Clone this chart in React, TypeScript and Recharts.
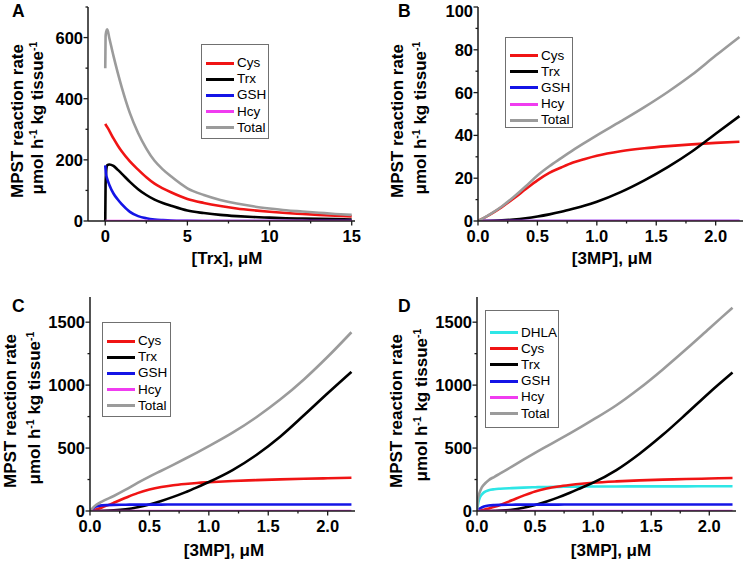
import { LineChart, Line, XAxis, YAxis, Legend } from "recharts";

const FONT = '"Liberation Sans", Arial, Helvetica, sans-serif';
const AXIS = "#1a1a1a";

const COLOR: Record<string, string> = {
  DHLA: "#2ee6e6",
  Cys: "#f01414",
  Trx: "#000000",
  GSH: "#1414e6",
  Hcy: "#f03cf0",
  Total: "#9b9b9b",
};

// A: rate vs [Trx], µM
const aX = [0, 0.02, 0.06, 0.12, 0.25, 0.5, 0.75, 1, 1.5, 2, 2.5, 3, 3.5, 4, 5, 6, 7, 8, 9, 10, 11, 12, 13, 14, 15];
const aCys = [318, 316, 312, 307, 295, 270, 248, 228, 195, 168, 143, 122, 107, 94, 72, 59, 49, 41, 35, 30, 26, 23, 20, 17, 15];
const aTrx = [0, 120, 165, 182, 185, 180, 168, 155, 128, 104, 85, 70, 59, 50, 34, 26, 20, 16, 13, 11, 9, 8, 7, 6, 5];
const aGsh = [182, 168, 150, 138, 118, 90, 71, 55, 30, 16, 9, 5, 3, 1.5, 0.5, 0, 0, 0, 0, 0, 0, 0, 0, 0, 0];
const aHcy = [0, 0, 0, 0, 0, 0, 0, 0, 0, 0, 0, 0, 0, 0, 0, 0, 0, 0, 0, 0, 0, 0, 0, 0, 0];
const aTotal = [500, 604, 620, 627, 598, 540, 487, 438, 353, 288, 237, 197, 169, 146, 107, 85, 69, 57, 48, 41, 35, 31, 27, 23, 20];

// B: rate vs [3MP], µM
const bX = [0, 0.1, 0.2, 0.3, 0.4, 0.5, 0.6, 0.7, 0.8, 0.9, 1.0, 1.2, 1.4, 1.6, 1.8, 2.0, 2.2];
const bCys = [0, 3, 6.5, 10.5, 14.8, 19, 22.5, 25, 27.3, 29, 30.5, 32.6, 34, 35, 35.8, 36.5, 37];
const bTrx = [0, 0.1, 0.3, 0.7, 1.3, 2.1, 3.1, 4.3, 5.7, 7.2, 9, 13.5, 19, 25.3, 32.5, 40.8, 49];
const bGsh = [0, 0, 0, 0, 0, 0, 0, 0, 0, 0, 0, 0, 0, 0, 0, 0, 0];
const bHcy = [0, 0, 0, 0, 0, 0, 0, 0, 0, 0, 0, 0, 0, 0, 0, 0, 0];
const bTotal = [0, 3.1, 6.8, 11.2, 16.1, 21.3, 25.6, 29.4, 33.1, 36.6, 40, 46.5, 53.2, 60.4, 68.3, 77.3, 86];

// C: rate vs [3MP], µM
const cX = [0, 0.05, 0.1, 0.2, 0.3, 0.4, 0.5, 0.6, 0.7, 0.8, 0.9, 1.0, 1.2, 1.4, 1.6, 1.8, 2.0, 2.2];
const cCys = [0, 12, 28, 65, 105, 142, 170, 190, 204, 214, 222, 228, 238, 245, 251, 256, 260, 264];
const cTrx = [0, 0.3, 1, 5, 14, 30, 52, 80, 112, 148, 188, 230, 325, 445, 590, 760, 935, 1105];
const cGsh = [0, 35, 45, 49, 50, 51, 51, 51, 52, 52, 52, 52, 52, 52, 52, 52, 52, 52];
const cHcy = [0, 0, 0, 0, 0, 0, 0, 0, 0, 0, 0, 0, 0, 0, 0, 0, 0, 0];
const cTotal = [0, 47, 74, 119, 169, 223, 273, 320, 367, 415, 464, 515, 622, 745, 885, 1045, 1225, 1420];

// D: rate vs [3MP], µM, with DHLA
const dX = [0, 0.01, 0.02, 0.04, 0.06, 0.1, 0.15, 0.2, 0.3, 0.4, 0.5, 0.6, 0.7, 0.8, 0.9, 1.0, 1.2, 1.4, 1.6, 1.8, 2.0, 2.2];
const dDhla = [0, 60, 95, 130, 148, 165, 173, 177, 182, 186, 189, 191, 192, 193, 194, 195, 195, 196, 196, 196, 197, 197];
const dCys = [0, 1, 3, 6, 10, 20, 33, 48, 85, 122, 155, 178, 194, 206, 216, 224, 235, 243, 249, 254, 258, 262];
const dTrx = [0, 0, 0, 0.1, 0.2, 0.5, 1.5, 3, 10, 26, 48, 76, 108, 145, 185, 225, 325, 455, 605, 770, 940, 1100];
const dGsh = [0, 10, 18, 28, 35, 43, 47, 49, 50, 51, 51, 51, 51, 52, 52, 52, 52, 52, 52, 52, 52, 52];
const dHcy = [0, 0, 0, 0, 0, 0, 0, 0, 0, 0, 0, 0, 0, 0, 0, 0, 0, 0, 0, 0, 0, 0];
const dTotal = [0, 100, 140, 185, 210, 245, 272, 298, 352, 408, 462, 514, 565, 617, 670, 725, 840, 975, 1125, 1285, 1450, 1615];

const mpTicks = [0, 0.25, 0.5, 0.75, 1, 1.25, 1.5, 1.75, 2];
const mpMajor = [0, 0.5, 1, 1.5, 2];

type Col = [string, number[]];

function table(xs: number[], cols: Col[]) {
  return xs.map((x, i) => {
    const row: Record<string, number> = { x };
    cols.forEach(([k, v]) => (row[k] = v[i]));
    return row;
  });
}

type Box = { left: number; top: number; width: number; height: number };

type PanelCfg = {
  box: Box;
  margin: { top: number; right: number; bottom: number; left: number };
  yWidth: number;
  xDomain: [number, number];
  xTicks: number[];
  xMajor: number[];
  xDigits: number;
  yDomain: [number, number];
  yTicks: number[];
  yMajor: number[];
  cols: Col[];
  xs: number[];
  legend: Box & { pad: number };
};

const tickText = { fontFamily: FONT, fontSize: 16.5, fontWeight: 700, fill: "#000" } as const;

// legend keeps the series order (recharts would sort it by name)
function LegendBox({ keys, pad }: { keys: string[]; pad: number }) {
  return (
    <div
      style={{
        boxSizing: "border-box",
        width: "100%",
        height: "100%",
        border: "1px solid #707070",
        background: "#fff",
        paddingTop: pad,
        paddingLeft: 4,
      }}
    >
      {keys.map((k) => (
        <div key={k} style={{ display: "flex", alignItems: "center", height: 16.2 }}>
          <span style={{ display: "inline-block", width: 28, height: 3, background: COLOR[k] }} />
          <span style={{ marginLeft: 3, fontFamily: FONT, fontSize: 13.5, lineHeight: "16px", color: "#000" }}>
            {k}
          </span>
        </div>
      ))}
    </div>
  );
}

function Panel({ c }: { c: PanelCfg }) {
  const data = table(c.xs, c.cols);
  const keys = c.cols.map(([k]) => k);

  const xTick = (t: any) => {
    const v = Number(t.payload.value);
    const major = c.xMajor.includes(v);
    return (
      <g>
        <line x1={t.x} x2={t.x} y1={t.y} y2={t.y + (major ? 4.5 : 2.5)} stroke={AXIS} strokeWidth={1.3} />
        {major && (
          <text x={t.x} y={t.y + 21} textAnchor="middle" style={tickText}>
            {v.toFixed(c.xDigits)}
          </text>
        )}
      </g>
    );
  };

  const yTick = (t: any) => {
    const v = Number(t.payload.value);
    const major = c.yMajor.includes(v);
    // a label at the very top of the axis sits a little lower so it stays inside the figure
    const nudge = v === c.yDomain[1] ? 4 : 0;
    return (
      <g>
        <line x1={t.x} x2={t.x - (major ? 4.5 : 2.5)} y1={t.y} y2={t.y} stroke={AXIS} strokeWidth={1.3} />
        {major && (
          <text x={t.x - 5} y={t.y + 6 + nudge} textAnchor="end" style={tickText}>
            {v}
          </text>
        )}
      </g>
    );
  };

  return (
    <div style={{ position: "absolute", left: c.box.left, top: c.box.top }}>
      <LineChart width={c.box.width} height={c.box.height} data={data} margin={c.margin}>
        <XAxis
          type="number"
          dataKey="x"
          domain={c.xDomain}
          ticks={c.xTicks}
          interval={0}
          height={30}
          tickSize={0}
          tickMargin={0}
          tickLine={false}
          axisLine={{ stroke: AXIS, strokeWidth: 1.5 }}
          tick={xTick}
          allowDataOverflow
        />
        <YAxis
          type="number"
          domain={c.yDomain}
          ticks={c.yTicks}
          interval={0}
          width={c.yWidth}
          tickSize={0}
          tickMargin={0}
          tickLine={false}
          axisLine={{ stroke: AXIS, strokeWidth: 1.5 }}
          tick={yTick}
          allowDataOverflow
        />
        <Legend
          layout="vertical"
          align="center"
          verticalAlign="middle"
          wrapperStyle={{
            left: c.legend.left,
            top: c.legend.top,
            width: c.legend.width,
            height: c.legend.height,
          }}
          content={() => <LegendBox keys={keys} pad={c.legend.pad} />}
        />
        {keys.map((k) => (
          <Line
            key={k}
            dataKey={k}
            name={k}
            type="monotone"
            stroke={COLOR[k]}
            strokeWidth={2.6}
            dot={false}
            activeDot={false}
            isAnimationActive={false}
          />
        ))}
      </LineChart>
    </div>
  );
}

const titleFont = { fontFamily: FONT, fontWeight: 700, fontSize: 17, lineHeight: 1, color: "#000", whiteSpace: "nowrap" } as const;

function Text({ cx, cy, rotate, children }: { cx: number; cy: number; rotate?: boolean; children: any }) {
  return (
    <div
      style={{
        ...titleFont,
        position: "absolute",
        left: cx,
        top: cy,
        transform: `translate(-50%, -50%)${rotate ? " rotate(-90deg)" : ""}`,
      }}
    >
      {children}
    </div>
  );
}

const Sup = ({ children }: { children: any }) => (
  <span style={{ fontSize: "0.62em", position: "relative", top: "-0.6em" }}>{children}</span>
);

function Titles({ l1, l2, cy1, cy2, xt, xcx, xcy, letter, lx, ly }: any) {
  return (
    <>
      <Text cx={l1} cy={cy1} rotate>
        MPST reaction rate
      </Text>
      <Text cx={l2} cy={cy2} rotate>
        μmol h<Sup>-1</Sup> kg tissue<Sup>-1</Sup>
      </Text>
      <Text cx={xcx} cy={xcy}>
        {xt}
      </Text>
      <div style={{ ...titleFont, position: "absolute", left: lx, top: ly, fontSize: 17.5 }}>{letter}</div>
    </>
  );
}

const panelA: PanelCfg = {
  box: { left: 0, top: -10, width: 372, height: 290 },
  margin: { top: 17, right: 17, bottom: 29, left: 0 },
  yWidth: 88,
  xDomain: [-1.05, 15.2],
  xTicks: [0, 2.5, 5, 7.5, 10, 12.5, 15],
  xMajor: [0, 5, 10, 15],
  xDigits: 0,
  yDomain: [0, 700],
  yTicks: [0, 100, 200, 300, 400, 500, 600, 700],
  yMajor: [0, 200, 400, 600],
  xs: aX,
  cols: [["Cys", aCys], ["Trx", aTrx], ["GSH", aGsh], ["Hcy", aHcy], ["Total", aTotal]],
  legend: { left: 201, top: 54, width: 68, height: 95, pad: 10 },
};

const panelB: PanelCfg = {
  box: { left: 372, top: -10, width: 373, height: 290 },
  margin: { top: 17, right: 2, bottom: 29, left: 0 },
  yWidth: 106,
  xDomain: [0, 2.23],
  xTicks: mpTicks,
  xMajor: mpMajor,
  xDigits: 1,
  yDomain: [0, 100],
  yTicks: [0, 10, 20, 30, 40, 50, 60, 70, 80, 90, 100],
  yMajor: [0, 20, 40, 60, 80, 100],
  xs: bX,
  cols: [["Cys", bCys], ["Trx", bTrx], ["GSH", bGsh], ["Hcy", bHcy], ["Total", bTotal]],
  legend: { left: 133, top: 47, width: 68, height: 91, pad: 9.5 },
};

const panelC: PanelCfg = {
  box: { left: 0, top: 280, width: 372, height: 281 },
  margin: { top: 17, right: 17, bottom: 20, left: 0 },
  yWidth: 90,
  xDomain: [0, 2.23],
  xTicks: mpTicks,
  xMajor: mpMajor,
  xDigits: 1,
  yDomain: [0, 1700],
  yTicks: [0, 250, 500, 750, 1000, 1250, 1500],
  yMajor: [0, 500, 1000, 1500],
  xs: cX,
  cols: [["Cys", cCys], ["Trx", cTrx], ["GSH", cGsh], ["Hcy", cHcy], ["Total", cTotal]],
  legend: { left: 102, top: 42, width: 69, height: 95, pad: 10 },
};

const panelD: PanelCfg = {
  box: { left: 372, top: 280, width: 373, height: 281 },
  margin: { top: 17, right: 9, bottom: 20, left: 0 },
  yWidth: 105,
  xDomain: [0, 2.23],
  xTicks: mpTicks,
  xMajor: mpMajor,
  xDigits: 1,
  yDomain: [0, 1700],
  yTicks: [0, 250, 500, 750, 1000, 1250, 1500],
  yMajor: [0, 500, 1000, 1500],
  xs: dX,
  cols: [["DHLA", dDhla], ["Cys", dCys], ["Trx", dTrx], ["GSH", dGsh], ["Hcy", dHcy], ["Total", dTotal]],
  legend: { left: 113, top: 30, width: 74, height: 118, pad: 13.5 },
};

export default function App() {
  return (
    <div style={{ position: "absolute", left: 0, top: 0, width: 745, height: 561, background: "#fff", overflow: "hidden" }}>
      <Panel c={panelA} />
      <Panel c={panelB} />
      <Panel c={panelC} />
      <Panel c={panelD} />
      <Titles l1={17} l2={37} cy1={121} cy2={118} xt="[Trx], μM" xcx={227} xcy={258} letter="A" lx={12} ly={3} />
      <Titles l1={397} l2={420} cy1={121} cy2={118} xt="[3MP], μM" xcx={612} xcy={258} letter="B" lx={398} ly={3} />
      <Titles l1={10} l2={34} cy1={411} cy2={408} xt="[3MP], μM" xcx={224} xcy={550} letter="C" lx={12} ly={298} />
      <Titles l1={396} l2={421} cy1={411} cy2={405} xt="[3MP], μM" xcx={611} xcy={550} letter="D" lx={398} ly={298} />
    </div>
  );
}
